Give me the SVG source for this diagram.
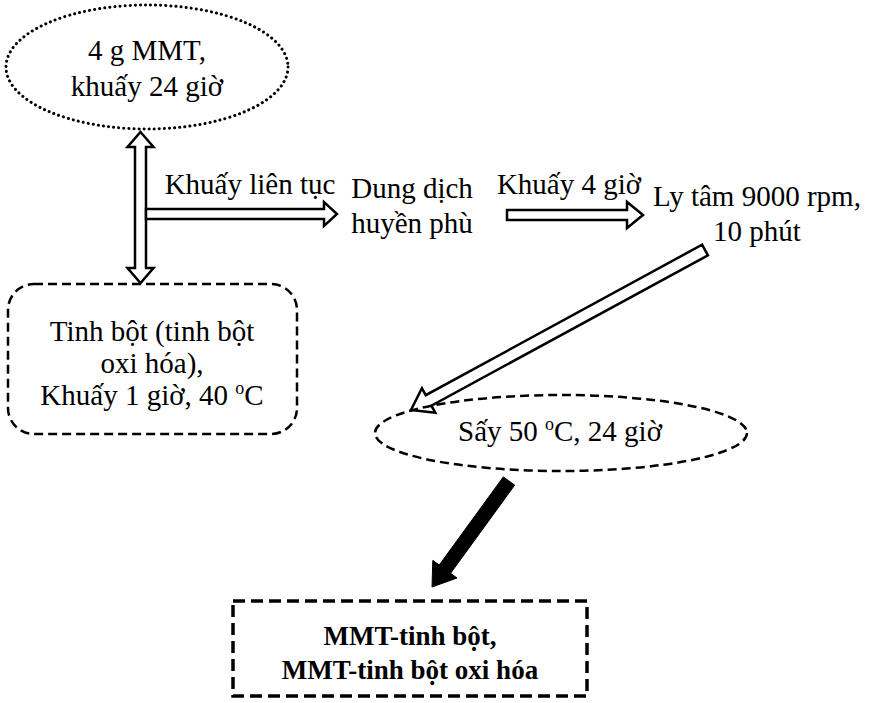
<svg xmlns="http://www.w3.org/2000/svg" width="871" height="703" viewBox="0 0 871 703">
<style>
text{font-family:"Liberation Serif","Times New Roman",serif;font-size:29px;fill:#000;text-anchor:middle}
.b{font-weight:bold;font-size:27px}
.dot{fill:none;stroke:#000;stroke-width:3;stroke-dasharray:0.1 5;stroke-linecap:round}
.dash{fill:none;stroke:#000;stroke-width:2.5;stroke-dasharray:9 5}
.dash2{fill:none;stroke:#000;stroke-width:3.5;stroke-dasharray:12 6}
.hollow{fill:#fff;stroke:#000;stroke-width:2.5;stroke-linejoin:miter}
.solid{fill:#000;stroke:#000;stroke-width:1}
</style>
<rect width="871" height="703" fill="#fff"/>
<g id="connectors">
<path class="hollow" d="M140.5,132 L153.5,147 L146,147 L146,268 L153.5,268 L140.5,283 L127.5,268 L135,268 L135,147 L127.5,147 Z"/>
<path class="hollow" d="M146,209 L324,209 L324,202 L337,214 L324,226 L324,219 L146,219 Z"/>
<path class="hollow" d="M507,210 L627,210 L627,202 L643,215 L627,228 L627,220 L507,220 Z"/>
<path class="hollow" d="M707.9,255.3 L431.4,405.7 L435.3,412.7 L411,410 L421.9,388.2 L425.7,395.2 L702.1,244.7 Z"/>
<path class="solid" d="M514.7,485.1 L450.6,573.3 L457,578 L432,587 L432.8,560.4 L439.2,565.1 L503.3,476.9 Z"/>
</g>
<g id="n1">
<ellipse class="dot" cx="147" cy="67" rx="141" ry="62"/>
<text x="147" y="60">4 g MMT,</text>
<text x="147" y="96">khuấy 24 giờ</text>
</g>
<g id="n2">
<rect class="dash" x="8" y="284" width="289" height="150" rx="26" ry="26"/>
<text x="152" y="341">Tinh bột (tinh bột</text>
<text x="152" y="373">oxi hóa),</text>
<text x="152" y="405">Khuấy 1 giờ, 40 <tspan font-size="18" dy="-11">o</tspan><tspan dy="11">C</tspan></text>
</g>
<g id="e1">
<text x="250" y="194">Khuấy liên tục</text>
</g>
<g id="n3">
<text x="412" y="198">Dung dịch</text>
<text x="412" y="233">huyền phù</text>
</g>
<g id="e2">
<text x="569" y="194">Khuấy 4 giờ</text>
</g>
<g id="n4">
<text x="757" y="206">Ly tâm 9000 rpm,</text>
<text x="757" y="241">10 phút</text>
</g>
<g id="n5">
<ellipse class="dash" cx="561" cy="433" rx="186" ry="38"/>
<text x="560" y="441">Sấy 50 <tspan font-size="18" dy="-11">o</tspan><tspan dy="11">C, 24 giờ</tspan></text>
</g>
<g id="n6">
<rect class="dash2" x="233" y="601" width="354" height="95"/>
<text class="b" x="410" y="645">MMT-tinh bột,</text>
<text class="b" x="410" y="679">MMT-tinh bột oxi hóa</text>
</g>
</svg>
